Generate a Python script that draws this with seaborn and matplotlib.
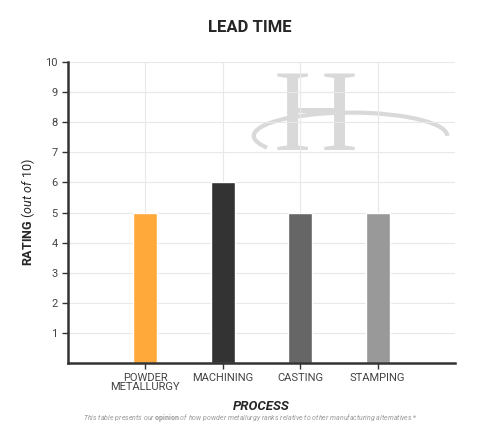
import matplotlib
matplotlib.use("Agg")
import matplotlib.pyplot as plt
import seaborn as sns
import pandas as pd
from matplotlib.patches import Arc

processes = ["POWDER\nMETALLURGY", "MACHINING", "CASTING", "STAMPING"]
ratings = [5, 6, 5, 5]
colors = ["#ffa93a", "#333333", "#666666", "#999999"]

sns.set_style("white")
plt.rcParams["font.family"] = ["Roboto", "DejaVu Sans"]
plt.rcParams["mathtext.fontset"] = "custom"
plt.rcParams["mathtext.rm"] = "Roboto"
plt.rcParams["mathtext.it"] = "Roboto:italic"
plt.rcParams["mathtext.bf"] = "Roboto:bold"

df = pd.DataFrame({"process": processes, "rating": ratings})

fig = plt.figure(figsize=(5, 4.29), dpi=100)
ax = fig.add_axes([0.136, 0.154, 0.774, 0.701])

# watermark
ax.text(2.2, 8.0, "H", fontsize=84, family="Liberation Serif", color="#d9d9d9",
        ha="center", va="center", zorder=0)
ax.add_patch(Arc((2.65, 7.55), 2.5, 1.55, theta1=0, theta2=200, color="#d9d9d9", lw=3, zorder=0))

sns.barplot(data=df, x="process", y="rating", hue="process", palette=colors,
            width=0.31, saturation=1, legend=False, ax=ax, zorder=2)
ax.set_xlim(-1, 4)
ax.set_ylim(0, 10)
ax.set_yticks(range(1, 11))
ax.grid(True, color="#e8e8e8", lw=0.8, zorder=0)
ax.set_axisbelow(True)
for s in ["top", "right"]:
    ax.spines[s].set_visible(False)
for s in ["left", "bottom"]:
    ax.spines[s].set_color("#333333")
    ax.spines[s].set_linewidth(1.8)
ax.tick_params(axis="both", length=4, width=1, color="#333333", labelsize=8,
               labelcolor="#444444", direction="out", bottom=True, left=True)
for lbl in ax.get_xticklabels():
    lbl.set_linespacing(0.85)
ax.set_xlabel("PROCESS", fontsize=9.5, fontweight="bold", style="italic", labelpad=6)
ax.set_ylabel(r"$\bf{RATING}$ $\it{(out\ of\ 10)}$", fontsize=9, labelpad=6)

fig.text(0.5, 0.935, "LEAD TIME", ha="center", va="center", fontsize=12, fontweight="bold")
fig.text(0.5, 0.025,
         r"$\it{This\ table\ presents\ our}$ $\bf{opinion}$ $\it{of\ how\ powder\ metallurgy\ ranks\ relative\ to\ other\ manufacturing\ alternatives*}$",
         ha="center", va="center", fontsize=5, color="#999999")

fig.savefig("out.png", dpi=100)
